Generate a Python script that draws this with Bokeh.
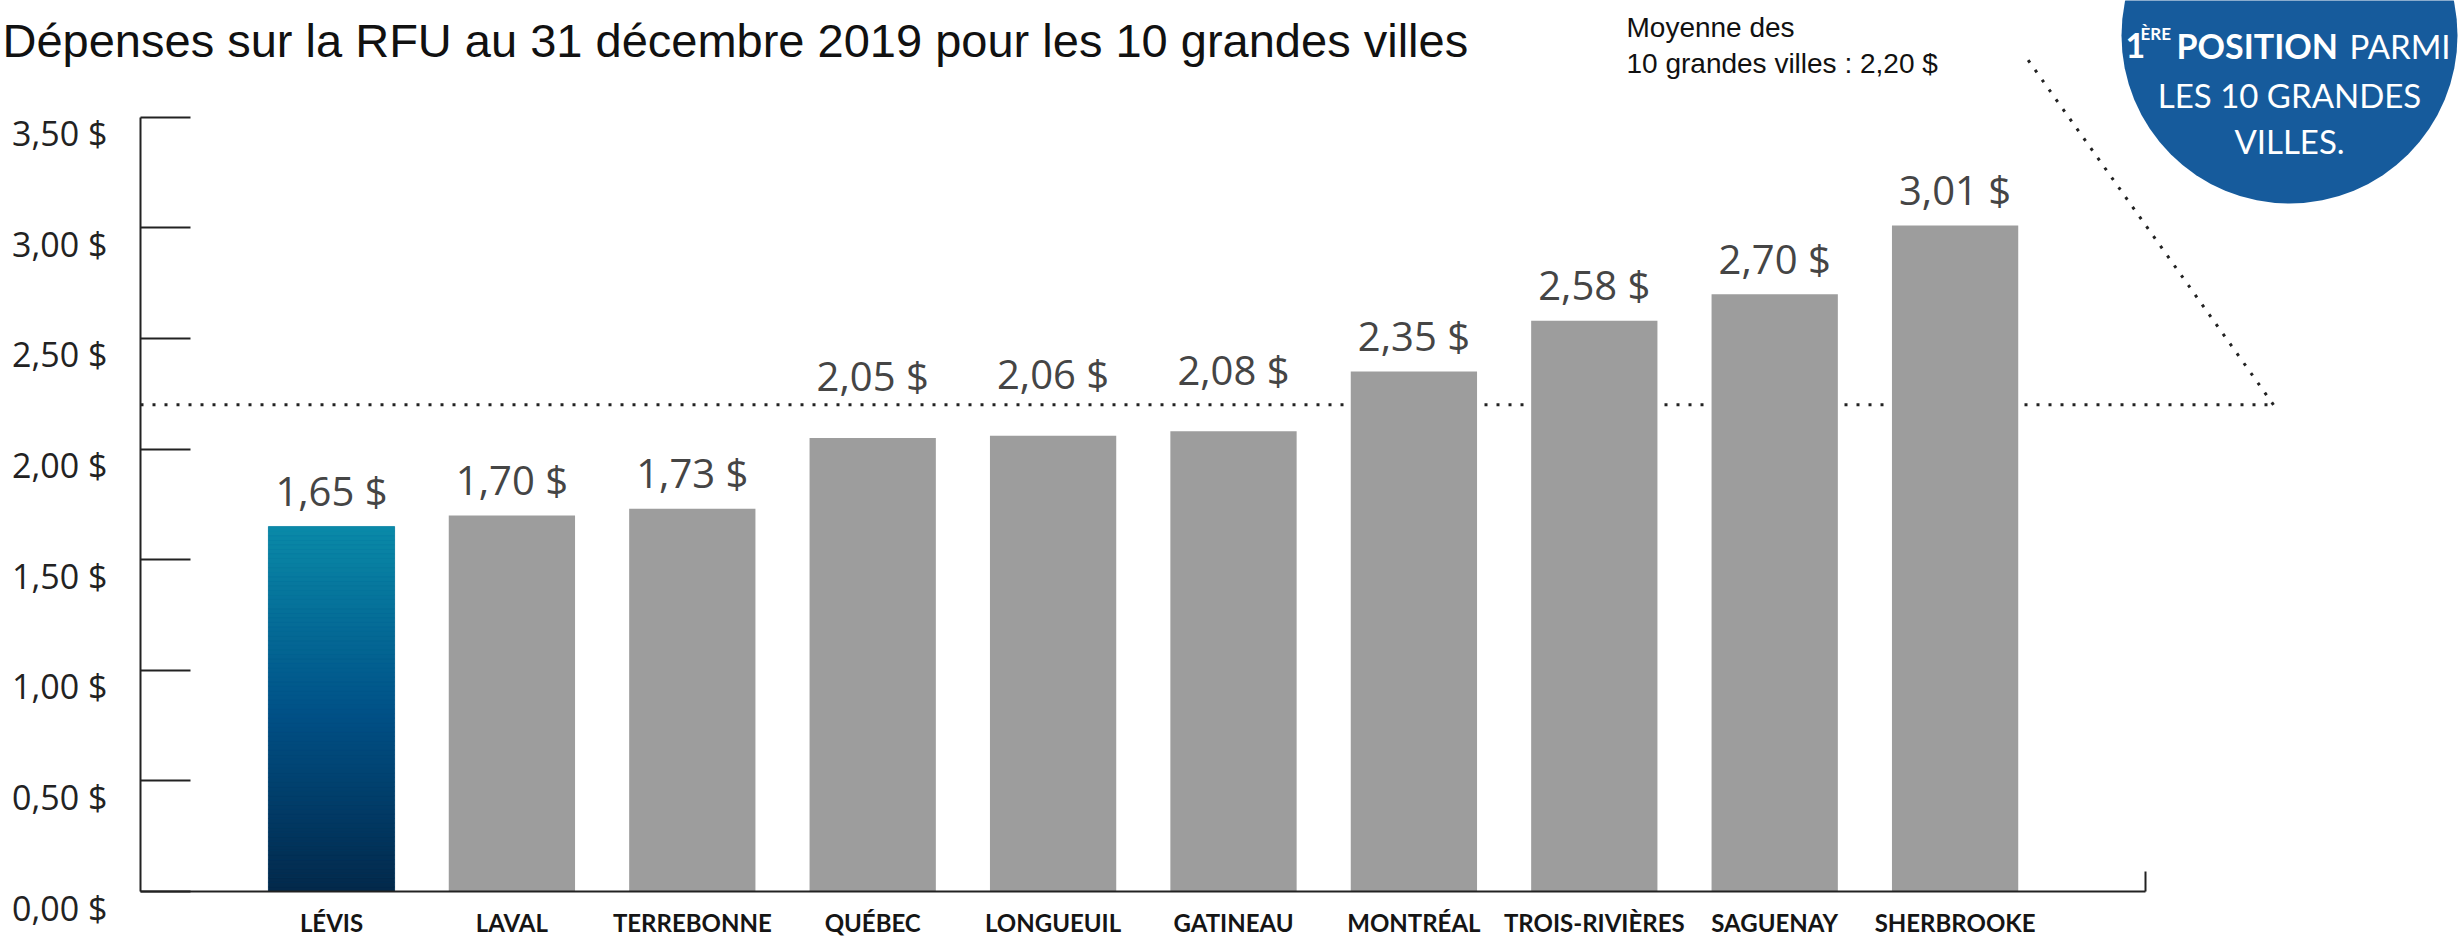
from bokeh.plotting import figure
from bokeh.models import Range1d, FixedTicker, Label, ColumnDataSource, LinearAxis
from bokeh.embed import file_html
from bokeh.resources import INLINE
from bokeh.core.properties import value

# ---------------- data ----------------
cities = ["LÉVIS", "LAVAL", "TERREBONNE", "QUÉBEC", "LONGUEUIL", "GATINEAU",
          "MONTRÉAL", "TROIS-RIVIÈRES", "SAGUENAY", "SHERBROOKE"]
values = [1.65, 1.70, 1.73, 2.05, 2.06, 2.08, 2.35, 2.58, 2.70, 3.01]
average = 2.20
y_ticks = [0.0, 0.5, 1.0, 1.5, 2.0, 2.5, 3.0, 3.5]
y_tick_labels = ["0,00 $", "0,50 $", "1,00 $", "1,50 $", "2,00 $", "2,50 $", "3,00 $", "3,50 $"]
title_text = "Dépenses sur la RFU au 31 décembre 2019 pour les 10 grandes villes"
avg_lines = ["Moyenne des", "10 grandes villes : 2,20 $"]
badge_lines = ["LES 10 GRANDES", "VILLES."]

# ---------------- layout (pixel geometry of the page) ----------------
W, H = 2463, 941
ORIGIN = 0                # the Bokeh page template has no body margin
PITCH = 180.4             # px per category
PX_PER_UNIT = 221.23      # px per $ on the y axis
FIRST_CENTER = 331        # page px of first bar centre
ZERO_Y = 891              # page px of the $0 baseline


def px_x(X):
    return (X - FIRST_CENTER) / PITCH


def px_y(Y):
    return (ZERO_Y - Y) / PX_PER_UNIT


p = figure(width=W, height=H, output_backend="svg", toolbar_location=None,
           x_range=Range1d(px_x(ORIGIN), px_x(ORIGIN + W)),
           y_range=Range1d(px_y(ORIGIN + H), px_y(ORIGIN)),
           min_border_left=0, min_border_right=0, min_border_top=0, min_border_bottom=0)
p.outline_line_color = None
p.xgrid.visible = False
p.ygrid.visible = False
p.background_fill_color = "white"
p.border_fill_color = "white"

idx = list(range(len(cities)))
axis_x = px_x(140)
axis_x_end = px_x(2145)

# ---------------- x axis ----------------
xa = p.xaxis[0]
xa.fixed_location = 0
xa.ticker = FixedTicker(ticks=idx)
xa.major_label_overrides = {i: c for i, c in zip(idx, cities)}
xa.major_tick_in = 0
xa.major_tick_out = 0
xa.minor_tick_in = 0
xa.minor_tick_out = 0
xa.axis_line_width = 2
xa.axis_line_color = "#222222"
xa.bounds = (axis_x, axis_x_end)
xa.major_label_standoff = 16
xa.major_label_text_font = "Lato"
xa.major_label_text_font_style = "bold"
xa.major_label_text_font_size = "24px"
xa.major_label_text_color = "#151515"

# ---------------- y axis (line + ticks) ----------------
ya = p.yaxis[0]
ya.fixed_location = axis_x
ya.ticker = FixedTicker(ticks=y_ticks)
ya.major_label_overrides = {t: "" for t in y_ticks}
ya.major_tick_in = 50
ya.major_tick_out = 0
ya.minor_tick_in = 0
ya.minor_tick_out = 0
ya.major_tick_line_width = 2
ya.major_tick_line_color = "#222222"
ya.axis_line_width = 2
ya.axis_line_color = "#222222"
ya.bounds = (0, 3.5)

# y tick labels sit a little below their tick in the reference
label_drop = 16 / PX_PER_UNIT
ylab = LinearAxis(fixed_location=axis_x,
                  ticker=FixedTicker(ticks=[t - label_drop for t in y_ticks]),
                  major_label_overrides={t - label_drop: l for t, l in zip(y_ticks, y_tick_labels)},
                  axis_line_color=None, major_tick_in=0, major_tick_out=0,
                  minor_tick_in=0, minor_tick_out=0, major_label_standoff=33,
                  major_label_text_font="Open Sans", major_label_text_font_size="34px",
                  major_label_text_color="#222222")
p.add_layout(ylab, "left")

# end tick of the x axis
p.segment(x0=[axis_x_end], y0=[0], x1=[axis_x_end], y1=[20 / PX_PER_UNIT],
          line_color="#222222", line_width=2)

# ---------------- average line ----------------
avg_end = px_x(2273)
p.line(x=[axis_x, avg_end], y=[average, average], line_color="#222222",
       line_width=3, line_dash="3 9")
p.line(x=[avg_end, px_x(2025)], y=[average, px_y(56)], line_color="#222222",
       line_width=3, line_dash="3 9")

# ---------------- bars ----------------
colors = ["#005288"] + ["#9d9d9d"] * (len(cities) - 1)
# labels just under the average line are lifted above it
offsets = [-62 if average - 0.25 < v < average else -36 for v in values]
src = ColumnDataSource(dict(x=idx, top=values, color=colors, off=offsets,
                            label=[f"{v:.2f}".replace(".", ",") + " $" for v in values]))
p.vbar(x="x", top="top", width=0.70, fill_color="color", line_color=None, source=src)


# gradient overlay for the highlighted city (style only)
def mix(c1, c2, t):
    a = [int(c1[i:i + 2], 16) for i in (1, 3, 5)]
    b = [int(c2[i:i + 2], 16) for i in (1, 3, 5)]
    return "#" + "".join(f"{round(a[k] + (b[k] - a[k]) * t):02x}" for k in range(3))


N = 80
stops = ["#03284a", "#005288", "#0a8aa8"]
gb, gt, gc = [], [], []
for i in range(N):
    t = (i + 0.5) / N
    c = mix(stops[0], stops[1], t * 2) if t < 0.5 else mix(stops[1], stops[2], (t - 0.5) * 2)
    gb.append(values[0] * i / N)
    gt.append(values[0] * (i + 1) / N)
    gc.append(c)
p.quad(left=[idx[0] - 0.35] * N, right=[idx[0] + 0.35] * N, bottom=gb, top=gt,
       fill_color=gc, line_color=gc, line_width=0.5)

# value labels
p.text(x="x", y="top", text="label", source=src, text_align="center",
       text_baseline="alphabetic", y_offset="off", text_font=value("Open Sans"),
       text_font_size="40px", text_color="#454545")

# ---------------- annotations ----------------
p.add_layout(Label(x=px_x(2), y=px_y(40), text=title_text,
                   text_font="Liberation Sans", text_font_size="47px",
                   text_color="#111111", text_baseline="alphabetic"))

for line, Y in zip(avg_lines, [27, 63]):
    p.add_layout(Label(x=px_x(1626), y=px_y(Y), text=line,
                       text_font="Liberation Sans", text_font_size="28px",
                       text_color="#111111", text_baseline="alphabetic"))

# badge
p.scatter(x=[px_x(2289)], y=[px_y(35)], size=336, marker="circle",
          fill_color="#165b9c", line_color=None)

badge_parts = [("1", 2125, 45, "34px", "bold"),
               ("ÈRE", 2140, 33, "17px", "bold"),
               ("POSITION", 2176, 45, "34px", "bold"),
               ("PARMI", 2349, 45, "33px", "normal")]
for txt, X, Y, fs, st in badge_parts:
    p.add_layout(Label(x=px_x(X), y=px_y(Y), text=txt, text_font="Lato",
                       text_font_size=fs, text_font_style=st, text_color="white",
                       text_baseline="alphabetic"))
for line, Y in zip(badge_lines, [94, 140]):
    p.add_layout(Label(x=px_x(2289), y=px_y(Y), text=line, text_font="Lato",
                       text_font_size="33px", text_color="white",
                       text_align="center", text_baseline="alphabetic"))

open("out.html", "w").write(file_html(p, INLINE))
